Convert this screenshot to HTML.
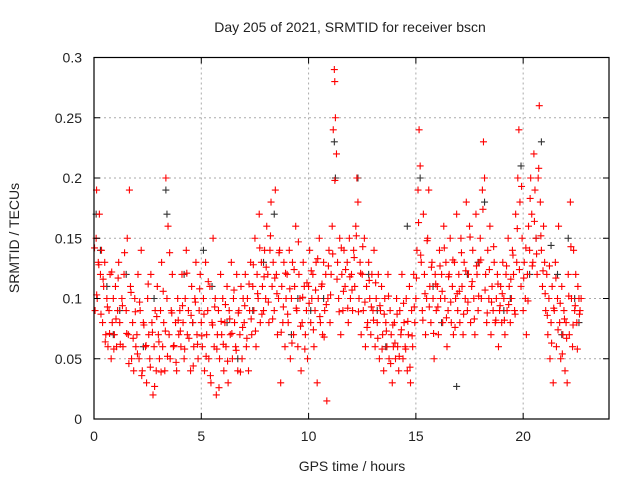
<!DOCTYPE html>
<html><head><meta charset="utf-8"><style>
body{margin:0;background:#fff}
svg{display:block;font-family:"Liberation Sans",sans-serif}
</style></head><body>
<svg id="chart" width="640" height="480">
<rect width="640" height="480" fill="#fff"/>
<g id="grid"></g>
<g id="black"></g>
<g id="red"></g>
<rect x="94" y="57.5" width="515" height="361.5" fill="none" stroke="#000" stroke-width="1.2"/>
<g id="ticks"></g>
<text x="350" y="32" text-anchor="middle" font-size="14" fill="#222">Day 205 of 2021, SRMTID for receiver bscn</text>
<text x="352" y="471" text-anchor="middle" font-size="14" fill="#222">GPS time / hours</text>
<text transform="translate(19,238) rotate(-90)" text-anchor="middle" font-size="14" fill="#222">SRMTID / TECUs</text>
</svg>
<script>
const xTicks=[0,5,10,15,20];
const yTicks=[0,0.05,0.1,0.15,0.2,0.25,0.3];
const yTickLabels=["0","0.05","0.1","0.15","0.2","0.25","0.3"];
const redT=[0.05,0.1,0.12,0.15,0.2,0.25,0.3,0.35,0.4,0.45,0.5,0.55,0.6,0.65,0.7,0.75,0.8,0.85,0.9,0.95,
1.0,1.05,1.1,1.15,1.2,1.3,1.35,1.4,1.5,1.55,1.6,1.65,1.7,1.75,1.8,1.85,1.9,1.95,
2.0,2.05,2.1,2.15,2.2,2.25,2.3,2.4,2.45,2.5,2.55,2.6,2.65,2.7,2.75,2.8,2.85,2.9,2.95,
3.0,3.05,3.1,3.15,3.2,3.25,3.3,3.35,3.4,3.45,3.5,3.55,3.6,3.65,3.7,3.8,3.85,3.9,3.95,
4.0,4.05,4.1,4.15,4.2,4.25,4.3,4.35,4.4,4.5,4.55,4.6,4.65,4.7,4.75,4.8,4.85,4.9,4.95,
5.0,5.05,5.1,5.15,5.2,5.25,5.3,5.35,5.4,5.45,5.5,5.55,5.6,5.65,5.7,5.75,5.8,5.85,5.9,5.95,
6.0,6.05,6.1,6.15,6.2,6.25,6.3,6.35,6.4,6.45,6.5,6.55,6.6,6.65,6.7,6.75,6.8,6.85,6.9,6.95,
7.0,7.05,7.1,7.15,7.2,7.25,7.3,7.35,7.4,7.45,7.5,7.55,7.6,7.65,7.7,7.75,7.8,7.85,7.9,7.95,
8.0,8.05,8.1,8.15,8.2,8.25,8.3,8.35,8.4,8.45,8.5,8.55,8.6,8.65,8.7,8.75,8.8,8.85,8.9,8.95,
9.0,9.05,9.1,9.15,9.2,9.25,9.3,9.35,9.4,9.45,9.5,9.55,9.6,9.65,9.7,9.75,9.8,9.85,9.9,9.95,
10.0,10.05,10.1,10.15,10.2,10.25,10.3,10.35,10.4,10.45,10.5,10.55,10.6,10.65,10.7,10.75,10.8,10.85,10.9,10.95,
11.0,11.05,11.1,11.15,11.2,11.22,11.25,11.3,11.35,11.4,11.45,11.5,11.55,11.6,11.65,11.7,11.8,11.85,11.9,11.95,
12.0,12.05,12.1,12.15,12.2,12.25,12.3,12.35,12.4,12.45,12.5,12.55,12.6,12.65,12.7,12.75,12.8,12.85,12.9,12.95,
13.0,13.05,13.1,13.15,13.2,13.25,13.3,13.35,13.4,13.45,13.5,13.55,13.6,13.65,13.7,13.75,13.8,13.85,13.9,13.95,
14.0,14.05,14.1,14.15,14.2,14.25,14.3,14.35,14.4,14.45,14.5,14.55,14.6,14.65,14.7,14.75,14.8,14.85,14.9,14.95,
15.0,15.05,15.1,15.15,15.2,15.25,15.3,15.35,15.4,15.45,15.5,15.55,15.6,15.65,15.7,15.75,15.8,15.85,15.9,15.95,
16.0,16.05,16.1,16.15,16.2,16.25,16.3,16.35,16.4,16.45,16.5,16.55,16.6,16.65,16.7,16.75,16.8,16.85,16.9,16.95,
17.0,17.05,17.1,17.15,17.2,17.25,17.3,17.35,17.4,17.45,17.5,17.55,17.6,17.65,17.7,17.75,17.8,17.85,17.9,17.95,
18.0,18.05,18.1,18.15,18.2,18.25,18.3,18.35,18.4,18.45,18.5,18.55,18.6,18.65,18.7,18.75,18.8,18.85,18.9,18.95,
19.0,19.05,19.1,19.15,19.2,19.25,19.3,19.35,19.4,19.45,19.5,19.55,19.6,19.65,19.7,19.75,19.8,19.85,19.9,19.95,
20.0,20.05,20.1,20.15,20.2,20.25,20.3,20.35,20.4,20.45,20.5,20.55,20.6,20.65,20.7,20.75,20.8,20.85,20.9,20.95,
21.0,21.05,21.1,21.15,21.2,21.25,21.3,21.35,21.4,21.45,21.5,21.55,21.6,21.65,21.7,21.75,21.8,21.85,21.9,21.95,
22.0,22.05,22.1,22.15,22.2,22.25,22.3,22.35,22.4,22.45,22.5,22.55,22.6,22.65,22.7];
const redV=[.09,.15,.19,.1,.13,.17,.12,.14,.08,.11,.13,.07,.1,.06,.09,.12,.05,.08,.1,.07,
.11,.06,.09,.13,.08,.1,.06,.12,.09,.15,.07,.19,.11,.05,.08,.04,.1,.06,
.07,.12,.05,.09,.14,.04,.08,.06,.03,.1,.07,.05,.12,.08,.02,.06,.09,.04,.11,
.07,.05,.09,.13,.06,.08,.04,.2,.1,.16,.07,.05,.09,.12,.06,.08,.04,.1,.07,
.09,.06,.12,.08,.05,.1,.14,.07,.09,.04,.11,.08,.06,.1,.13,.07,.05,.09,.12,
.08,.06,.1,.04,.13,.07,.09,.05,.11,.03,.08,.15,.06,.1,.02,.07,.09,.05,.12,.07,
.1,.04,.08,.06,.11,.03,.09,.07,.13,.05,.1,.08,.06,.12,.04,.09,.07,.11,.05,.1,
.08,.12,.06,.1,.04,.09,.13,.07,.11,.09,.15,.06,.12,.1,.17,.08,.13,.11,.09,.14,
.1,.16,.12,.08,.14,.18,.11,.13,.09,.19,.12,.07,.1,.14,.03,.11,.08,.13,.06,.1,
.12,.08,.14,.05,.1,.13,.07,.11,.16,.09,.06,.12,.1,.04,.08,.13,.11,.07,.09,.05,
.11,.14,.08,.1,.12,.06,.09,.13,.03,.1,.15,.08,.11,.07,.13,.09,.12,.015,.1,.14,
.08,.12,.16,.24,.29,.28,.25,.22,.13,.1,.15,.07,.12,.09,.14,.11,.13,.08,.15,.1,
.12,.09,.14,.11,.16,.2,.18,.1,.13,.07,.12,.09,.15,.06,.11,.08,.13,.1,.07,.12,
.09,.14,.06,.1,.08,.12,.05,.09,.11,.07,.04,.1,.08,.06,.12,.05,.09,.07,.03,.06,
.08,.05,.1,.06,.04,.09,.07,.12,.05,.08,.06,.1,.04,.07,.11,.03,.09,.06,.12,.08,
.1,.14,.19,.24,.21,.13,.09,.17,.12,.07,.1,.15,.19,.11,.08,.13,.1,.05,.12,.09,
.11,.07,.14,.1,.12,.08,.16,.1,.13,.06,.09,.12,.15,.08,.11,.07,.13,.1,.17,.09,
.12,.08,.15,.11,.07,.13,.1,.18,.09,.12,.16,.08,.11,.14,.1,.07,.17,.12,.09,.13,
.15,.1,.19,.23,.2,.12,.08,.14,.1,.16,.07,.11,.09,.13,.08,.1,.12,.06,.09,.11,
.08,.13,.1,.07,.12,.09,.15,.11,.08,.1,.14,.12,.09,.17,.13,.2,.24,.18,.11,.15,
.09,.13,.1,.07,.12,.16,.14,.2,.17,.13,.22,.19,.15,.12,.2,.26,.18,.14,.11,.16,
.13,.09,.12,.07,.1,.05,.08,.11,.03,.09,.13,.06,.1,.16,.08,.05,.11,.07,.09,.04,
.08,.03,.12,.07,.18,.1,.06,.14,.09,.12,.08,.11,.1,.09,.1];
const redT2=[0.025,0.125,0.225,0.325,0.425,0.525,0.625,0.725,0.825,0.925,
1.025,1.125,1.225,1.325,1.425,1.525,1.625,1.725,1.825,1.925,
2.025,2.125,2.225,2.325,2.425,2.525,2.625,2.725,2.825,2.925,
3.025,3.125,3.225,3.325,3.425,3.525,3.625,3.725,3.825,3.925,
4.025,4.125,4.225,4.325,4.425,4.525,4.625,4.725,4.825,4.925,
5.025,5.125,5.225,5.325,5.425,5.525,5.625,5.725,5.825,5.925,
6.025,6.125,6.225,6.325,6.425,6.525,6.625,6.725,6.825,6.925,
7.025,7.125,7.225,7.325,7.425,7.525,7.625,7.725,7.825,7.925,
8.025,8.125,8.225,8.325,8.425,8.525,8.625,8.725,8.825,8.925,
9.025,9.125,9.225,9.325,9.425,9.525,9.625,9.725,9.825,9.925,
10.025,10.125,10.225,10.325,10.425,10.525,10.625,10.725,10.825,10.925,
11.025,11.125,11.225,11.325,11.425,11.525,11.625,11.725,11.825,11.925,
12.025,12.125,12.225,12.325,12.425,12.525,12.625,12.725,12.825,12.925,
13.025,13.125,13.225,13.325,13.425,13.525,13.625,13.725,13.825,13.925,
14.025,14.125,14.225,14.325,14.425,14.525,14.625,14.725,14.825,14.925,
15.025,15.125,15.225,15.325,15.425,15.525,15.625,15.725,15.825,15.925,
16.025,16.125,16.225,16.325,16.425,16.525,16.625,16.725,16.825,16.925,
17.025,17.125,17.225,17.325,17.425,17.525,17.625,17.725,17.825,17.925,
18.025,18.125,18.225,18.325,18.425,18.525,18.625,18.725,18.825,18.925,
19.025,19.125,19.225,19.325,19.425,19.525,19.625,19.725,19.825,19.925,
20.025,20.125,20.225,20.325,20.425,20.525,20.625,20.725,20.825,20.925,
21.025,21.125,21.225,21.325,21.425,21.525,21.625,21.725,21.825,21.925,
22.025,22.125,22.225,22.325,22.425,22.525,22.625];
const redV2=[.142,.103,.128,.087,.116,.064,.093,.071,.122,.058,
.083,.117,.062,.094,.138,.071,.046,.105,.067,.089,
.054,.097,.036,.078,.061,.112,.043,.072,.027,.085,
.064,.039,.106,.073,.052,.138,.088,.061,.047,.082,
.073,.094,.058,.121,.067,.086,.044,.097,.062,.108,
.069,.087,.052,.114,.036,.078,.093,.058,.026,.081,
.062,.095,.048,.083,.071,.107,.057,.088,.039,.076,
.094,.067,.112,.083,.128,.073,.104,.142,.087,.118,
.126,.097,.152,.083,.117,.104,.138,.072,.093,.121,
.087,.108,.063,.124,.092,.147,.077,.101,.058,.113,
.096,.123,.074,.107,.133,.085,.112,.068,.095,.127,
.103,.137,.198,.116,.089,.142,.106,.124,.092,.118,
.107,.134,.152,.089,.121,.143,.097,.076,.115,.093,
.082,.113,.067,.094,.058,.087,.073,.102,.046,.078,
.063,.087,.052,.074,.096,.058,.081,.043,.069,.093,
.117,.163,.136,.082,.104,.148,.093,.126,.071,.112,
.093,.127,.106,.142,.084,.118,.097,.132,.076,.104,
.106,.138,.087,.123,.097,.151,.114,.083,.127,.102,
.132,.174,.107,.088,.124,.097,.143,.082,.112,.094,
.104,.082,.127,.095,.116,.136,.087,.158,.124,.193,
.117,.142,.098,.183,.127,.164,.137,.208,.152,.123,
.104,.086,.127,.063,.092,.117,.074,.096,.054,.083,
.067,.102,.143,.078,.094,.058,.087];
const blackT=[0.1,0.3,0.9,1.5,2.3,3.35,3.4,4.6,5.1,5.5,6.7,7.4,8.4,9.5,10.1,11.2,11.25,12.3,13.2,14.6,15.2,16.2,16.9,17.4,18.2,19.4,19.9,20.3,20.85,21.3,21.8,22.1,22.6,0.6,1.2,2.8,4.2,6.2,7.9,9.2,10.7,12.8,13.6,15.8,17.9,19.1,20.6,21.6,22.4];
const blackV=[.17,.14,.07,.12,.06,.19,.17,.08,.14,.11,.05,.09,.17,.1,.09,.23,.2,.2,.09,.16,.2,.08,.027,.12,.18,.1,.21,.12,.23,.144,.07,.15,.08,.11,.09,.1,.12,.08,.13,.07,.1,.12,.06,.11,.13,.09,.15,.12,.1];
const X0=94,X1=609,Y0=419,Y1=57.5,XMAX=24,YMAX=0.3;
const sx=v=>X0+v/XMAX*(X1-X0), sy=v=>Y0-v/YMAX*(Y0-Y1);
const NS="http://www.w3.org/2000/svg";
function mk(tag,parent,attrs){const e=document.createElementNS(NS,tag);for(const k in attrs)e.setAttribute(k,attrs[k]);parent.appendChild(e);return e;}
const grid=document.getElementById('grid'),ticks=document.getElementById('ticks');
xTicks.forEach((t,i)=>{const x=sx(t);
 if(t>0){const g=mk('line',grid,{x1:x,x2:x,y1:Y1,y2:Y0,stroke:'#aaa','stroke-dasharray':'2,3'});
 
 }
 const tk=mk('path',ticks,{d:`M${x},${Y0}v-6M${x},${Y1}v6`,stroke:'#000'});
 
 
 const lb=mk('text',ticks,{x:x,y:Y0+22,'text-anchor':'middle','font-size':14,fill:'#222'});lb.textContent=String(t);
 
 
});
yTicks.forEach((t,i)=>{const y=sy(t);
 if(t>0&&t<YMAX){const g=mk('line',grid,{x1:X0,x2:X1,y1:y,y2:y,stroke:'#aaa','stroke-dasharray':'2,3'});
 
 }
 const tk=mk('path',ticks,{d:`M${X0},${y}h6M${X1},${y}h-6`,stroke:'#000'});
 
 
 const lb=mk('text',ticks,{x:X0-12,y:y+5,'text-anchor':'end','font-size':14,fill:'#222'});lb.textContent=yTickLabels[i];
 
 
});
function plot(T,V,gid,col,name){const g=document.getElementById(gid);
 T.forEach((t,i)=>{const x=sx(t),y=sy(V[i]);
  const p=mk('path',g,{d:`M${x-3.5},${y}h7M${x},${y-3.5}v7`,stroke:col,'stroke-width':1.1});
  
  
 });}
plot(blackT,blackV,'black','#333','black-point');
plot(redT,redV,'red','#f00','red-point');
plot(redT2,redV2,'red','#f00','red-point');
</script>
</body></html>
